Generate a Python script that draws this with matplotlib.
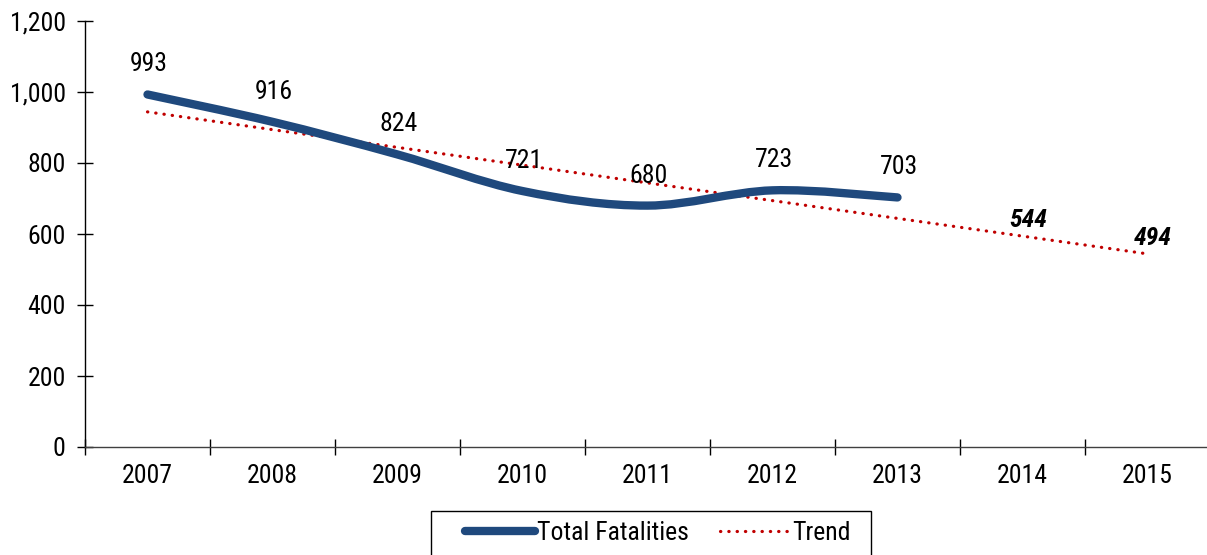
import matplotlib
matplotlib.use("Agg")
import matplotlib.pyplot as plt
from matplotlib.path import Path
from matplotlib.patches import PathPatch, Rectangle
from matplotlib.lines import Line2D
from matplotlib import font_manager

years = ["2007", "2008", "2009", "2010", "2011", "2012", "2013", "2014", "2015"]
fatalities = [993, 916, 824, 721, 680, 723, 703]
trend = [944, 894, 844, 794, 744, 694, 644, 594, 544]
trend_labels = ["544", "494"]
trend_label_idx = [7, 8]

avail = {f.name for f in font_manager.fontManager.ttflist}
fam = [f for f in ["Liberation Sans Narrow", "Roboto Condensed", "Liberation Sans", "DejaVu Sans"] if f in avail]
plt.rcParams['font.family'] = fam

W, H = 1207, 555
fig = plt.figure(figsize=(W / 100, H / 100), dpi=100)
ax = fig.add_axes([85 / W, (H - 447) / H, 1125 / W, 426 / H])
ax.set_xlim(-0.5, len(years) - 0.5)
ax.set_ylim(0, 1200)

line_color = "#1F497D"
trend_color = "#C00000"

# smooth line via cubic Bezier (Excel-like smoothing)
xs = list(range(len(fatalities)))
pts = list(zip(xs, fatalities))
verts = [pts[0]]
codes = [Path.MOVETO]
n = len(pts)
for i in range(n - 1):
    p0 = pts[i - 1] if i > 0 else pts[i]
    p1 = pts[i]
    p2 = pts[i + 1]
    p3 = pts[i + 2] if i + 2 < n else pts[i + 1]
    c1 = (p1[0] + (p2[0] - p0[0]) / 6, p1[1] + (p2[1] - p0[1]) / 6)
    c2 = (p2[0] - (p3[0] - p1[0]) / 6, p2[1] - (p3[1] - p1[1]) / 6)
    verts += [c1, c2, p2]
    codes += [Path.CURVE4] * 3
patch = PathPatch(Path(verts, codes), facecolor="none", edgecolor=line_color,
                  lw=6, capstyle="round", joinstyle="round", zorder=3)
ax.add_patch(patch)

ax.plot(range(len(trend)), trend, color=trend_color, lw=2.3,
        linestyle=(0, (0.1, 2.5)), dash_capstyle="round", zorder=2)

for x, v in zip(xs, fatalities):
    ax.annotate(f"{v:,}", (x, v), xytext=(1, 13), textcoords="offset points",
                ha="center", va="bottom", fontsize=18.5, color="black", zorder=4)

for idx, lab in zip(trend_label_idx, trend_labels):
    ax.annotate(lab, (idx, trend[idx]), xytext=(4, 3), textcoords="offset points",
                ha="center", va="bottom", fontsize=18.5, fontweight="bold",
                fontstyle="italic", color="black", zorder=4)

for s in ["top", "right"]:
    ax.spines[s].set_visible(False)
ax.spines["left"].set_color("black")
ax.spines["bottom"].set_color("#404040")
ax.spines["left"].set_linewidth(1)
ax.spines["bottom"].set_linewidth(1)

ax.set_yticks(range(0, 1201, 200))
ax.set_yticklabels([f"{v:,}" for v in range(0, 1201, 200)], fontsize=18.5)
ax.tick_params(axis="y", direction="inout", length=12, width=1, pad=8)

ax.set_xticks(range(len(years)))
ax.set_xticklabels(years, fontsize=18.5)
ax.set_xticks([i + 0.5 for i in range(-1, len(years) - 1)], minor=True)
ax.tick_params(axis="x", which="major", length=0, pad=12)
ax.tick_params(axis="x", which="minor", direction="inout", length=12, width=1)

# legend box
fig.patches.append(Rectangle((431 / W, -0.01), 440 / W, (H - 511) / H + 0.01,
                             transform=fig.transFigure, facecolor="white",
                             edgecolor="black", lw=1, zorder=1))
handles = [Line2D([0], [0], color=line_color, lw=6, solid_capstyle="round"),
           Line2D([0], [0], color=trend_color, lw=2.3, linestyle=(0, (0.1, 2.5)),
                  dash_capstyle="round")]
leg = fig.legend(handles, ["Total Fatalities", "Trend"], loc="center",
                 bbox_to_anchor=(658 / W, 1 - 533 / H), ncol=2, fontsize=18.5,
                 frameon=False, handlelength=2.7, columnspacing=1.2,
                 handletextpad=0.1, borderpad=0, borderaxespad=0)
leg.set_zorder(2)

fig.savefig("out.png", dpi=100)
